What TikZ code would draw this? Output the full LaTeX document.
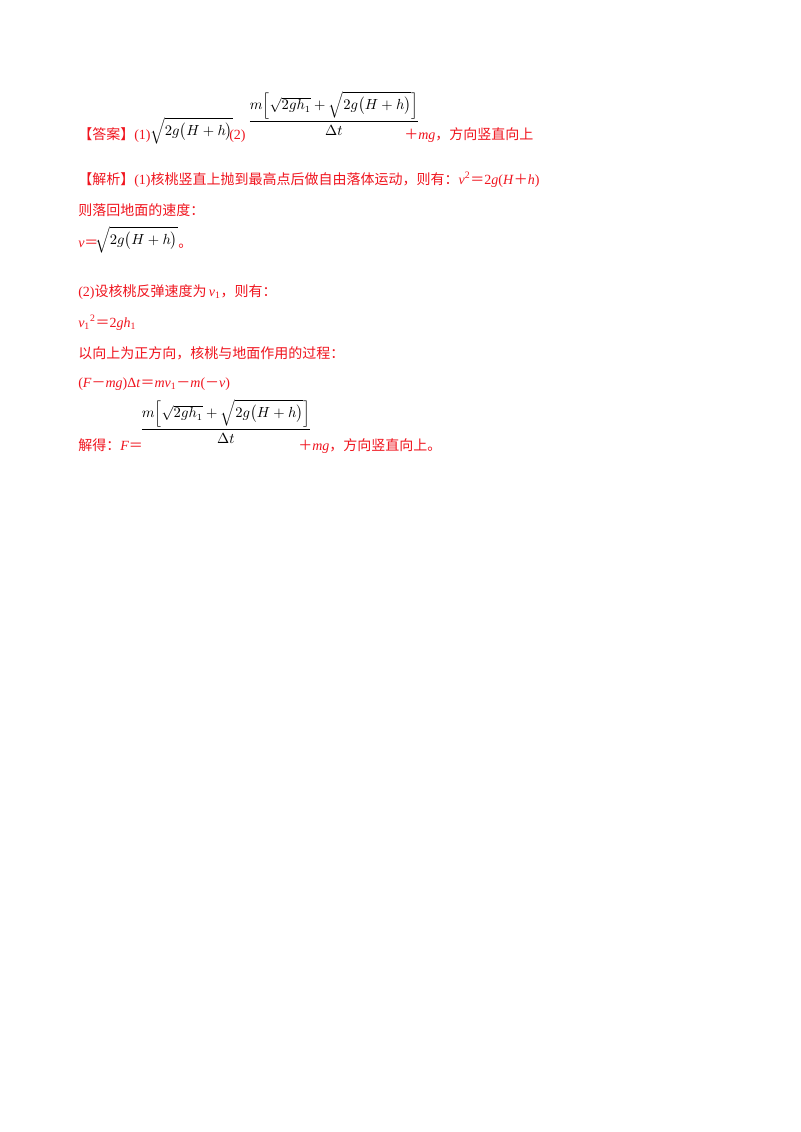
\documentclass[tikz,border=0pt]{standalone}
\usepackage{fontspec}
\setmainfont{Liberation Serif}
\newfontfamily\cjk{Noto Sans CJK SC}
\usepackage{amsmath}
\definecolor{ansred}{HTML}{F0141E}
\newcommand{\fp}{{\cjk ＋}}
\newcommand{\fm}{{\cjk －}}
\newcommand{\fe}{{\cjk ＝}}
\begin{document}
\begin{tikzpicture}[x=0.75pt,y=-0.75pt,
  txt/.style={anchor=base west,inner sep=0pt,text=ansred,font=\fontsize{10.5}{12}\selectfont},
  frm/.style={anchor=base west,inner sep=0pt,text=black,font=\fontsize{10.5}{12}\selectfont}]
\useasboundingbox[fill=white] (0,0) rectangle (800,1132);
\node[txt] (a1) at (78,139) {{\cjk【答案】}(1)};
\node[frm] (f1) at (150,135) {$\sqrt{2g\bigl(H+h\bigr)}$};
\node[txt] (a2) at (229,139) {(2)};
\node[frm] (f2) at (248,125) {$\dfrac{m\Bigl[\sqrt{2gh_1}+\sqrt{2g\bigl(H+h\bigr)}\Bigr]}{\Delta t}$};
\node[txt] (a3) at (404,139) {\fp\textit{mg}{\cjk，方向竖直向上}};
\node[txt] (b1) at (78,184) {{\cjk【解析】}(1){\cjk 核桃竖直上抛到最高点后做自由落体运动，则有：}\textit{v}\textsuperscript{2}\fe 2\textit{g}(\textit{H}\fp\textit{h})};
\node[txt] (b2) at (78,215) {\cjk 则落回地面的速度：};
\node[txt] (b3) at (78,247) {\textit{v}\fe};
\node[frm] (f3) at (95,244) {$\sqrt{2g\bigl(H+h\bigr)}$};
\node[txt] (b4) at (178,247) {\cjk 。};
\node[txt] (c1) at (78,296) {(2){\cjk 设核桃反弹速度为}\,\textit{v}\textsubscript{1}{\cjk，则有：}};
\node[txt] (c2) at (78,327) {\textit{v}\textsubscript{1}\textsuperscript{2}\fe 2\textit{gh}\textsubscript{1}};
\node[txt] (c3) at (78,358) {\cjk 以向上为正方向，核桃与地面作用的过程：};
\node[txt] (c4) at (78,387) {(\textit{F}\fm\textit{mg})Δ\textit{t}\fe\textit{mv}\textsubscript{1}\fm\textit{m}(\fm\textit{v})};
\node[txt] (c5) at (78,450) {{\cjk 解得：}\textit{F}\fe};
\node[frm] (f4) at (140,433) {$\dfrac{m\Bigl[\sqrt{2gh_1}+\sqrt{2g\bigl(H+h\bigr)}\Bigr]}{\Delta t}$};
\node[txt] (c6) at (298,450) {\fp\textit{mg}{\cjk，方向竖直向上。}};
\end{tikzpicture}
\end{document}
